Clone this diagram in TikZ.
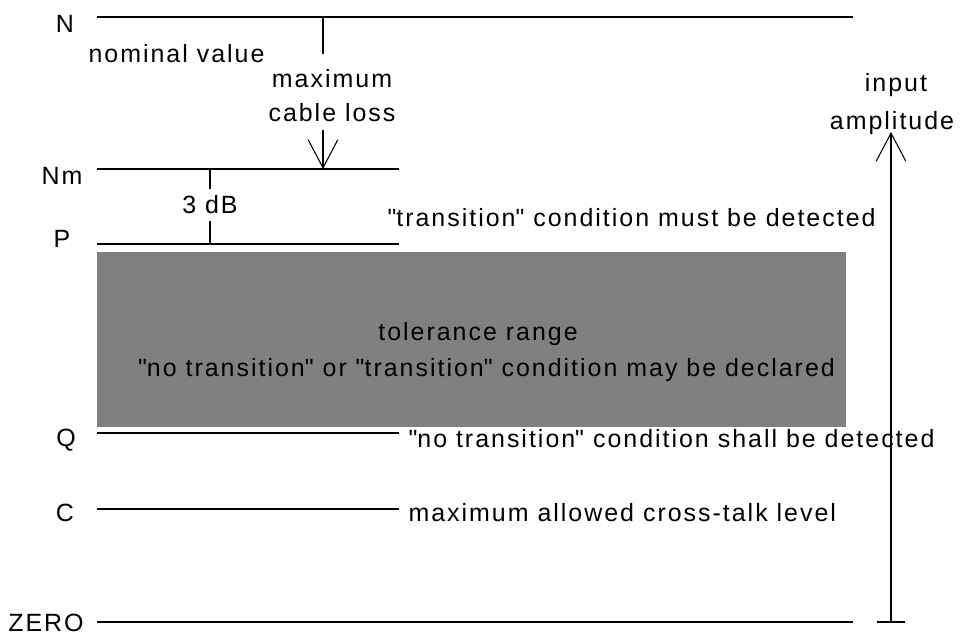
\documentclass[tikz,border=0pt]{standalone}
\usepackage{fontspec}
\setmainfont{Liberation Sans}[LetterSpace=8]
\usetikzlibrary{arrows.meta}

\newcommand{\qd}{\textquotedbl}

\begin{document}
\begin{tikzpicture}[
    line width=0.6pt,
    lbl/.style={inner sep=0pt, anchor=base,
              font=\fontsize{14.2}{17}\selectfont},
    note/.style={lbl, anchor=base west},
    band/.style={fill=gray, draw=none},
    barb/.style={-{Straight Barb[length=5.6mm, width=5.9mm]}}
]
    \useasboundingbox (0,0) rectangle (19.22,12.70);

    % long level lines
    \coordinate (N-w) at (1.94,12.36);
    \coordinate (N-e) at (17.06,12.36);
    \coordinate (Z-w) at (1.94,0.26);
    \coordinate (Z-e) at (17.06,0.26);
    \draw (N-w) -- (N-e);
    \draw (Z-w) -- (Z-e);

    % short level lines
    \foreach \lv/\y in {Nm/9.32, P/7.82, Q/4.04, C/2.52} {
        \coordinate (\lv-w) at (1.94,\y);
        \coordinate (\lv-e) at (7.98,\y);
        \draw (\lv-w) -- (\lv-e);
    }

    % tolerance band
    \coordinate (band-nw) at (1.94,7.66);
    \coordinate (band-se) at (16.92,4.16);
    \fill[band] (band-nw) rectangle (band-se);

    % level names
    \node[lbl] (lN)  at (1.30,12.04) {N};
    \node[lbl] (lNm) at (1.24,9.00)  {Nm};
    \node[lbl] (lP)  at (1.24,7.74)  {P};
    \node[lbl] (lQ)  at (1.32,3.76)  {Q};
    \node[lbl] (lC)  at (1.30,2.26)  {C};
    \node[lbl] (lZ)  at (0.92,0.06)  {ZERO};

    % texts
    \node[lbl] (nom)  at (3.53,11.44) {nominal value};
    \node[lbl] (loss1) at (6.64,10.94) {maximum};
    \node[lbl] (loss2) at (6.64,10.26) {cable loss};
    \node[lbl] (inp1) at (17.92,10.86) {input};
    \node[lbl] (inp2) at (17.84,10.10) {amplitude};
    \node[note] (must) at (7.74,8.16)
        {\qd transition\qd{} condition must be detected};
    \node[lbl] (tol1) at (9.56,5.88) {tolerance range};
    \node[lbl] (tol2) at (9.73,5.16)
        {\qd no transition\qd{} or \qd transition\qd{} condition may be declared};
    \node[note] (shall) at (8.16,3.74)
        {\qd no transition\qd{} condition shall be detected};
    \node[note] (xtalk) at (8.16,2.26)
        {maximum allowed cross-talk level};

    % cable loss marker
    \coordinate (tick-top) at (6.46,12.36);
    \coordinate (tick-bot) at (6.46,11.62);
    \coordinate (loss-from) at (6.46,10.10);
    \coordinate (loss-to) at (6.46,9.32);
    \draw (tick-top) -- (tick-bot);
    \draw[barb] (loss-from) -- (loss-to);

    % 3 dB step
    \coordinate (db-top) at (4.20,9.32);
    \coordinate (db-bot) at (4.20,7.82);
    \node[font=\fontsize{14.2}{17}\selectfont, inner xsep=0pt,
          inner ysep=0.12cm] (db) at (4.20,8.60) {3 dB};
    \draw (db-top) -- (db);
    \draw (db) -- (db-bot);

    % input amplitude axis
    \coordinate (ax-bot) at (17.82,0.26);
    \coordinate (ax-top) at (17.82,10.06);
    \coordinate (ax-l) at (17.54,0.26);
    \coordinate (ax-r) at (18.10,0.26);
    \draw (ax-l) -- (ax-r);
    \draw[barb] (ax-bot) -- (ax-top);
\end{tikzpicture}
\end{document}
